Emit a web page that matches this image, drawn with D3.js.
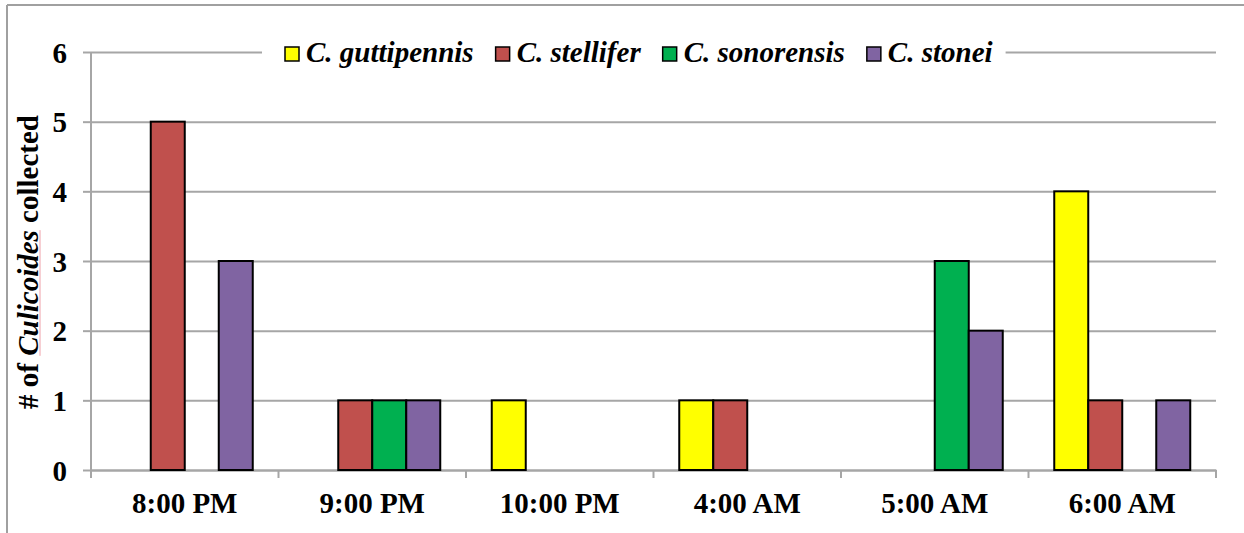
<!DOCTYPE html>
<html>
<head>
<meta charset="utf-8">
<script src="https://cdn.jsdelivr.net/npm/d3@7"></script>
<style>
  html, body { margin: 0; padding: 0; background: #fff; }
  svg { display: block; }
</style>
</head>
<body>
<svg id="chart" width="1244" height="533"></svg>
<script>
// Collection times and counts per species
const categories = ["8:00 PM", "9:00 PM", "10:00 PM", "4:00 AM", "5:00 AM", "6:00 AM"];
const seriesNames = ["C. guttipennis", "C. stellifer", "C. sonorensis", "C. stonei"];
const guttipennis = [0, 0, 1, 1, 0, 4];
const stellifer   = [5, 1, 0, 1, 0, 1];
const sonorensis  = [0, 1, 0, 0, 3, 0];
const stonei      = [3, 1, 0, 0, 2, 1];
const yTicks = [0, 1, 2, 3, 4, 5, 6];

const seriesValues = [guttipennis, stellifer, sonorensis, stonei];
const colors = ["#FFFF00", "#C0504D", "#00B050", "#8064A2"];

const FONT = "Liberation Serif";
const FS = 29;

const svg = d3.select("#chart");
const plot = { left: 91, right: 1216, top: 52, bottom: 470 };
const gridColor = "#a6a6a6";

function styleText(sel) {
  return sel.attr("font-family", FONT).attr("font-weight", "bold")
    .attr("font-size", FS).attr("fill", "#000");
}

// Outer frame (top and left edges visible)
svg.append("line").attr("x1", 7).attr("x2", 1244).attr("y1", 5).attr("y2", 5)
  .attr("stroke", "#a0a0a0").attr("stroke-width", 2);
svg.append("line").attr("x1", 7).attr("x2", 7).attr("y1", 5).attr("y2", 533)
  .attr("stroke", "#a0a0a0").attr("stroke-width", 2);

const x = d3.scaleBand().domain(categories).range([plot.left, plot.right]).paddingInner(0).paddingOuter(0);
const groupPad = 25.75;
const xs = d3.scaleBand().domain(seriesNames).range([groupPad, x.bandwidth() - groupPad]).padding(0);
const y = d3.scaleLinear().domain([0, 6]).range([plot.bottom, plot.top]);

// Horizontal gridlines with left tick marks
const yAxis = svg.append("g")
  .attr("transform", `translate(${plot.left},0)`)
  .call(d3.axisLeft(y).tickValues(yTicks).tickFormat(d3.format("d"))
    .tickSizeInner(-(plot.right - plot.left)).tickSizeOuter(0).tickPadding(0));
yAxis.select(".domain").remove();
yAxis.selectAll(".tick line").attr("stroke", gridColor).attr("stroke-width", 2);
yAxis.selectAll(".tick").append("line")
  .attr("x1", -8).attr("x2", 0).attr("stroke", gridColor).attr("stroke-width", 2);
styleText(yAxis.selectAll(".tick text"))
  .attr("x", -24).attr("dy", "0.35em");

// Vertical axis line
svg.append("line").attr("x1", plot.left).attr("x2", plot.left)
  .attr("y1", plot.top).attr("y2", plot.bottom)
  .attr("stroke", gridColor).attr("stroke-width", 2);

// Category axis
const xAxis = svg.append("g")
  .attr("transform", `translate(0,${plot.bottom})`)
  .call(d3.axisBottom(x).tickSize(0).tickPadding(0));
xAxis.select(".domain").attr("stroke", gridColor).attr("stroke-width", 2);
styleText(xAxis.selectAll(".tick text"))
  .attr("y", 43).attr("dy", 0);
// Tick marks at category boundaries
const boundaries = categories.map(c => x(c)).concat([plot.right]);
xAxis.selectAll("line.boundary").data(boundaries).enter().append("line")
  .attr("class", "boundary")
  .attr("x1", d => d).attr("x2", d => d).attr("y1", 0).attr("y2", 8)
  .attr("stroke", gridColor).attr("stroke-width", 2);

// Bars
const barData = [];
categories.forEach((c, i) => {
  seriesNames.forEach((s, j) => {
    const v = seriesValues[j][i];
    if (v > 0) barData.push({ cat: c, series: s, value: v, color: colors[j] });
  });
});
svg.append("g").selectAll("rect").data(barData).enter().append("rect")
  .attr("x", d => x(d.cat) + xs(d.series))
  .attr("y", d => y(d.value))
  .attr("width", xs.bandwidth())
  .attr("height", d => y(0) - y(d.value))
  .attr("fill", d => d.color)
  .attr("stroke", "#000").attr("stroke-width", 2);

// Legend on top gridline
const legend = svg.append("g");
const legendBg = legend.append("rect").attr("fill", "#fff");
let lx = 285;
const legendY = 62;
seriesNames.forEach((s, j) => {
  legend.append("rect")
    .attr("x", lx).attr("y", legendY - 15).attr("width", 14).attr("height", 14)
    .attr("fill", colors[j]).attr("stroke", "#000").attr("stroke-width", 1.5);
  const t = styleText(legend.append("text"))
    .attr("x", lx + 21).attr("y", legendY)
    .attr("font-style", "italic")
    .text(s);
  lx = lx + 21 + t.node().getComputedTextLength() + 22;
});
legendBg.attr("x", 262).attr("y", 30).attr("width", lx - 22 + 13 - 262).attr("height", 40);

// Vertical axis title with italic genus name
const titleG = svg.append("g").attr("transform", `translate(38,262) rotate(-90)`);
const title = styleText(titleG.append("text")).attr("text-anchor", "middle");
title.append("tspan").text("# of ");
title.append("tspan").attr("font-style", "italic").text("Culicoides");
title.append("tspan").text(" collected");
// faint underline beneath the genus name
const tn = title.node();
const total = tn.getComputedTextLength();
const s0 = tn.getSubStringLength(0, 5);
const s1 = tn.getSubStringLength(5, 10);
titleG.append("line")
  .attr("x1", -total / 2 + s0).attr("x2", -total / 2 + s0 + s1)
  .attr("y1", 2).attr("y2", 2)
  .attr("stroke", "#f0a0a8").attr("stroke-width", 1);
</script>
</body>
</html>
